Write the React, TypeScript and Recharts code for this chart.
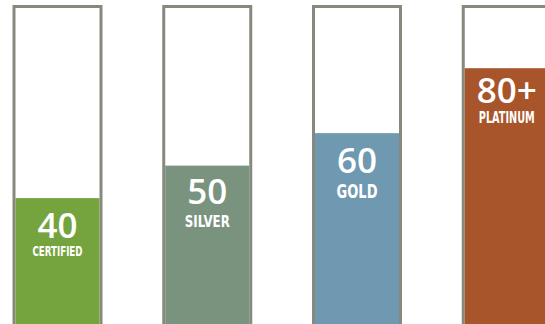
import { Bar, BarChart, XAxis, YAxis } from 'recharts';

const tiers = ['CERTIFIED', 'SILVER', 'GOLD', 'PLATINUM'];
const points = [40, 50, 60, 80];
const pointLabels = ['40', '50', '60', '80+'];
const scaleMax = 99;

const tierColors = ['#75a43f', '#79937e', '#6f98b1', '#a8552c'];
const borderColor = '#87897c';

const tierText = [
  { numDy: 40, labDy: 58, labSize: 14, labWidth: 50 },
  { numDy: 38, labDy: 61, labSize: 15, labWidth: 45 },
  { numDy: 40, labDy: 65, labSize: 19, labWidth: 41 },
  { numDy: 35, labDy: 55, labSize: 15, labWidth: 56 },
];

const data = tiers.map((t, i) => ({
  tier: t,
  points: points[i],
  label: pointLabels[i],
  color: tierColors[i],
}));

function TierBar(props: any) {
  const { x, y, width, height, payload, index } = props;
  const cx = x + width / 2;
  const look = tierText[index];
  return (
    <g>
      <rect x={x + 1.5} y={y} width={width - 3} height={height} fill={payload.color} />
      <text
        x={cx}
        y={y + look.numDy}
        textAnchor='middle'
        fill='#fff'
        fontFamily="'Open Sans', sans-serif"
        fontWeight={600}
        fontSize={35}
      >
        {payload.label}
      </text>
      <text
        x={cx}
        y={y + look.labDy}
        textAnchor='middle'
        fill='#fff'
        fontFamily="'Liberation Sans Narrow', 'DejaVu Sans Condensed', sans-serif"
        fontWeight={700}
        fontSize={look.labSize}
        textLength={look.labWidth}
        lengthAdjust='spacingAndGlyphs'
      >
        {payload.tier}
      </text>
    </g>
  );
}

export default function App() {
  return (
    <div
      style={{
        position: 'absolute',
        left: 0,
        top: 0,
        width: 545,
        height: 324,
        overflow: 'hidden',
        background: '#fff',
      }}
    >
      <div style={{ position: 'relative', left: -17 }}>
        <BarChart
          width={599}
          height={340}
          data={data}
          margin={{ top: 6.5, right: 0, bottom: 12, left: 0 }}
          barSize={87}
        >
          <XAxis dataKey='tier' hide />
          <YAxis hide domain={[0, scaleMax]} />
          <Bar
            dataKey='points'
            isAnimationActive={false}
            background={{ fill: '#fff', stroke: borderColor, strokeWidth: 3 }}
            shape={TierBar}
          />
        </BarChart>
      </div>
    </div>
  );
}
